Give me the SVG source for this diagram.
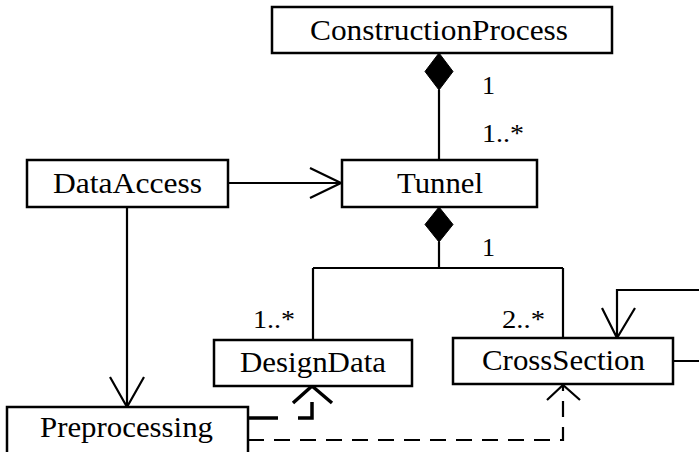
<svg xmlns="http://www.w3.org/2000/svg" width="699" height="452" viewBox="0 0 699 452">
<style>
.box{fill:#fff;stroke:#000;stroke-width:2.5}
.t{font-family:"Liberation Serif","Times New Roman",serif;font-size:29px;fill:#000}
.l{font-family:"Liberation Serif","Times New Roman",serif;font-size:25px;fill:#000}
.ln{fill:none;stroke:#000;stroke-width:2.2}
.dia{fill:#000;stroke:#000;stroke-width:1}
</style>
<rect width="699" height="452" fill="#fff"/>
<g id="connectors">
<path class="ln" d="M439,90 V160"/>
<polygon class="dia" points="439,53 453,71.5 439,90 425,71.5"/>
<path class="ln" d="M228,183 H341 M310,168 L341,183 L310,198"/>
<path class="ln" d="M439,242 V268 M313,268 H563 M313,268 V339 M563,268 V338"/>
<polygon class="dia" points="439,207 453,224.5 439,242 425,224.5"/>
<path class="ln" d="M127,207 V407 M110,377 L127,407 L144,377"/>
<path class="ln" d="M673,361 H712 V290 H617 V338 M602,308 L617,338 L635,308"/>
<path class="ln" d="M248,418 H312 V386" stroke-dasharray="30 20" style="stroke-width:3.5"/>
<path class="ln" d="M293,403 L312,386 L332,403" style="stroke-width:3.5"/>
<path class="ln" d="M248,440 H563 V385" stroke-dasharray="16 10"/>
<path class="ln" d="M547,400 L563,385 L580,400"/>
<text class="l" x="482" y="94" textLength="13" lengthAdjust="spacingAndGlyphs">1</text>
<text class="l" x="482" y="142" textLength="42" lengthAdjust="spacingAndGlyphs">1..*</text>
<text class="l" x="482" y="256" textLength="13" lengthAdjust="spacingAndGlyphs">1</text>
<text class="l" x="253" y="328" textLength="42" lengthAdjust="spacingAndGlyphs">1..*</text>
<text class="l" x="502" y="328" textLength="43" lengthAdjust="spacingAndGlyphs">2..*</text>
</g>
<g id="ConstructionProcess">
<rect class="box" x="272" y="7" width="340" height="46"/>
<text class="t" x="310" y="40" textLength="258" lengthAdjust="spacingAndGlyphs">ConstructionProcess</text>
</g>
<g id="DataAccess">
<rect class="box" x="27" y="160" width="201" height="47"/>
<text class="t" x="53" y="193" textLength="149" lengthAdjust="spacingAndGlyphs">DataAccess</text>
</g>
<g id="Tunnel">
<rect class="box" x="342" y="160" width="195" height="47"/>
<text class="t" x="397" y="193" textLength="86" lengthAdjust="spacingAndGlyphs">Tunnel</text>
</g>
<g id="DesignData">
<rect class="box" x="214" y="340" width="198" height="46"/>
<text class="t" x="240" y="372" textLength="146" lengthAdjust="spacingAndGlyphs">DesignData</text>
</g>
<g id="CrossSection">
<rect class="box" x="453" y="338" width="220" height="46"/>
<text class="t" x="482" y="370" textLength="163" lengthAdjust="spacingAndGlyphs">CrossSection</text>
</g>
<g id="Preprocessing">
<rect class="box" x="7" y="407" width="241" height="60"/>
<text class="t" x="40" y="437" textLength="173" lengthAdjust="spacingAndGlyphs">Preprocessing</text>
</g>
</svg>
